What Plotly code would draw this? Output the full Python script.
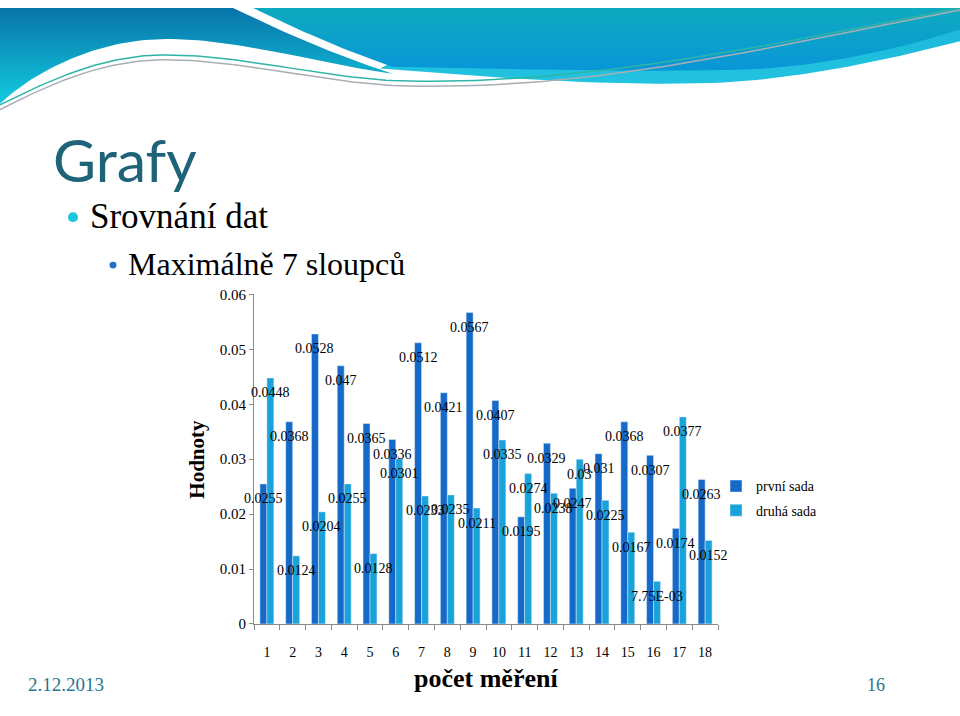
import numpy as np
import plotly.graph_objects as go

# ---------------- data ----------------
categories = [str(i) for i in range(1, 19)]
prvni_sada = [0.0255, 0.0368, 0.0528, 0.047, 0.0365, 0.0336, 0.0512, 0.0421, 0.0567,
              0.0407, 0.0195, 0.0329, 0.0247, 0.031, 0.0368, 0.0307, 0.0174, 0.0263]
druha_sada = [0.0448, 0.0124, 0.0204, 0.0255, 0.0128, 0.0301, 0.0233, 0.0235, 0.0211,
              0.0335, 0.0274, 0.0238, 0.03, 0.0225, 0.0167, 0.00775, 0.0377, 0.0152]
series_names = ["první sada", "druhá sada"]
y_tick_vals = [0, 0.01, 0.02, 0.03, 0.04, 0.05, 0.06]
y_tick_text = ["0", "0.01", "0.02", "0.03", "0.04", "0.05", "0.06"]

DARK = "#1569c9"
LIGHT = "#1aa2da"
SERIF = "Liberation Serif"
W, H = 960, 716
BARGAP = 0.46


def fmt(v):
    return f"{v:.2E}" if v < 0.01 else f"{v:g}"


def bez(p0, p1, p2, p3, n=40):
    t = np.linspace(0, 1, n)
    x = (1 - t) ** 3 * p0[0] + 3 * (1 - t) ** 2 * t * p1[0] + 3 * (1 - t) * t ** 2 * p2[0] + t ** 3 * p3[0]
    y = (1 - t) ** 3 * p0[1] + 3 * (1 - t) ** 2 * t * p1[1] + 3 * (1 - t) * t ** 2 * p2[1] + t ** 3 * p3[1]
    return list(x), list(y)


def path(start, segs):
    xs, ys = [start[0]], [start[1]]
    cur = start
    for s in segs:
        if len(s) == 1:
            xs.append(s[0][0]); ys.append(s[0][1]); cur = s[0]
        else:
            bx, by = bez(cur, s[0], s[1], s[2])
            xs += bx[1:]; ys += by[1:]; cur = s[2]
    return xs, ys


fig = go.Figure()

# ---------------- decorative slide header (pixel overlay axes) ----------------
def deco_fill(xs, ys, c_top, c_bot, y0, y1):
    fig.add_trace(go.Scatter(
        x=xs, y=ys, xaxis="x2", yaxis="y2", mode="lines", fill="toself",
        line=dict(width=0, color=c_bot),
        fillgradient=dict(type="vertical", colorscale=[[0, c_top], [1, c_bot]], start=y0, stop=y1),
        hoverinfo="skip", showlegend=False))


# cyan band under right wave
xs, ys = path((380, 62), [((480, 70), (600, 80), (705, 77)),
                          ((800, 74), (900, 50), (960, 34)),
                          ((960, 0),), ((500, 0),), ((380, 62),)])
deco_fill(xs, ys, "#1ab4d8", "#22c4e0", 0, 80)
# right wave
xs, ys = path((253, 0), [((960, 0),), ((960, 22),),
                         ((900, 42), (820, 60), (745, 63)),
                         ((640, 66), (480, 62), (392, 60)),
                         ((330, 38), (290, 18), (253, 0))])
deco_fill(xs, ys, "#0eaabf", "#0895d9", 0, 66)
# left wave
xs, ys = path((0, 0), [((233, 0),),
                       ((290, 28), (340, 50), (392, 67)),
                       ((330, 60), (230, 28), (155, 32)),
                       ((90, 35), (30, 68), (0, 98)),
                       ((0, 0),)])
deco_fill(xs, ys, "#0874a9", "#12cde0", 0, 98)

# thin swoosh lines
for pts, col in [
    (path((0, 104), [((60, 72), (110, 53), (165, 53)),
                     ((250, 53), (330, 80), (420, 80)),
                     ((600, 82), (760, 42), (960, 2))]), "#a8aeb4"),
    (path((0, 99), [((60, 68), (110, 48), (165, 48)),
                    ((250, 48), (330, 75), (420, 75)),
                    ((600, 76), (780, 36), (960, 0))]), "#2fb4a8"),
]:
    fig.add_trace(go.Scatter(x=pts[0], y=pts[1], xaxis="x2", yaxis="y2", mode="lines",
                             line=dict(color=col, width=1.5), hoverinfo="skip", showlegend=False))

# ---------------- bars ----------------
fig.add_trace(go.Bar(x=categories, y=prvni_sada, name=series_names[0], marker_color=DARK,
                     legendgroup="a"))
fig.add_trace(go.Bar(x=categories, y=druha_sada, name=series_names[1], marker_color=LIGHT,
                     legendgroup="b"))

annotations = []
off = (1 - BARGAP) / 4
for vals, sign in [(prvni_sada, -1), (druha_sada, 1)]:
    for i, v in enumerate(vals):
        annotations.append(dict(x=i + sign * off, y=v, xref="x", yref="y", text=fmt(v),
                                showarrow=False, yshift=-15, xanchor="center", yanchor="middle",
                                font=dict(family=SERIF, size=14, color="black")))

# ---------------- slide texts (pixel coords) ----------------
def txt(x, y, s, size, color="black", family=SERIF, xanchor="left", angle=0):
    annotations.append(dict(x=x, y=y, xref="x2", yref="y2", text=s, showarrow=False,
                            xanchor=xanchor, yanchor="middle", textangle=angle,
                            font=dict(family=family, size=size, color=color)))


txt(51, 155, "Grafy", 59, color="#1f6378", family="Lato")
txt(88, 213, "Srovnání dat", 35)
txt(126, 262, "Maximálně 7 sloupců", 32)
txt(197, 462, "<b>Hodnoty</b>", 21, xanchor="center", angle=-90)
txt(486, 686, "<b>počet měření</b>", 26, xanchor="center")
txt(26, 692, "2.12.2013", 19, color="#2b7590")
txt(876, 692, "16", 18, color="#2b7590", xanchor="center")

shapes = [
    dict(type="circle", xref="x2", yref="y2", x0=68, x1=78, y0=209, y1=219,
         fillcolor="#1ac8dc", line=dict(width=0)),
    dict(type="circle", xref="x2", yref="y2", x0=109.5, x1=116.5, y0=259.5, y1=266.5,
         fillcolor="#1f6fc8", line=dict(width=0)),
]

fig.update_layout(
    width=W, height=H,
    margin=dict(l=0, r=0, t=0, b=0),
    paper_bgcolor="white", plot_bgcolor="rgba(0,0,0,0)",
    barmode="group", bargap=BARGAP, bargroupgap=0,
    showlegend=True,
    legend=dict(x=716 / W, y=1 - 473 / H, xanchor="left", yanchor="top",
                font=dict(family=SERIF, size=14, color="black"), tracegroupgap=3,
                itemwidth=30, bgcolor="rgba(0,0,0,0)"),
    xaxis=dict(domain=[254 / W, 718 / W], type="category", range=[-0.5, 17.5],
               showline=True, linecolor="#8a8a8a", linewidth=1, ticks="outside",
               tickson="boundaries", ticklen=5, tickcolor="#8a8a8a", showgrid=False,
               zeroline=False, ticklabelstandoff=15,
               tickfont=dict(family=SERIF, size=14, color="black")),
    yaxis=dict(domain=[1 - 630 / H, 1 - 293 / H], range=[0, 0.06], tickvals=y_tick_vals,
               ticktext=y_tick_text, showline=True, linecolor="#8a8a8a", linewidth=1,
               ticks="outside", ticklen=4, tickcolor="#8a8a8a", showgrid=False,
               zeroline=False, ticklabelstandoff=0,
               tickfont=dict(family=SERIF, size=15, color="black")),
    xaxis2=dict(domain=[0, 1], range=[0, W], visible=False, anchor="y2", fixedrange=True),
    yaxis2=dict(domain=[0, 1], range=[H, 0], visible=False, anchor="x2", fixedrange=True),
    annotations=annotations,
    shapes=shapes,
)

fig.write_html("out.html")
